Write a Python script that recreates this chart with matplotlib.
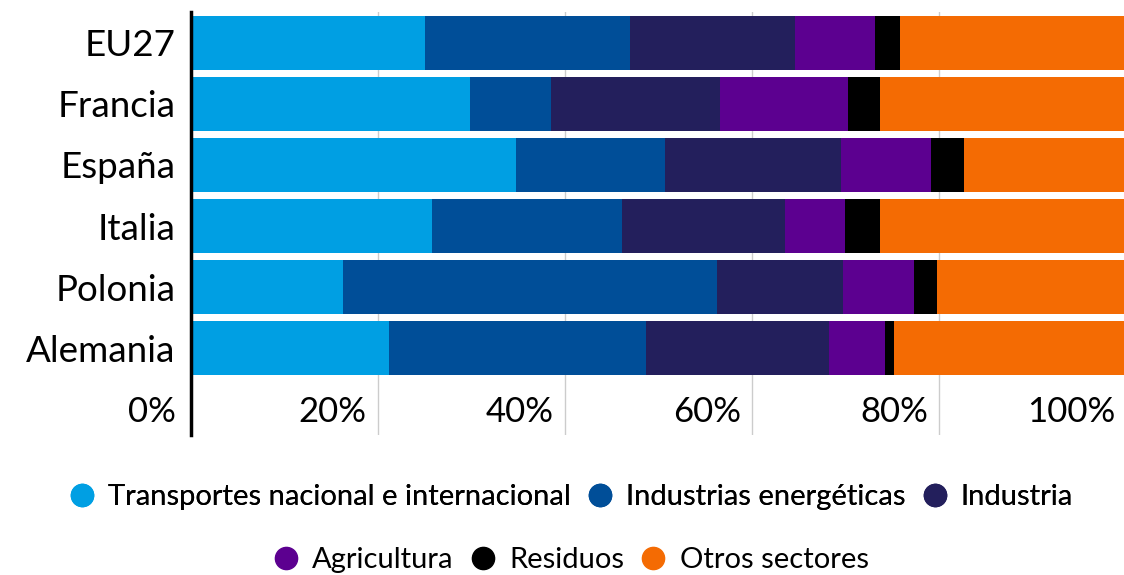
import matplotlib.pyplot as plt
from matplotlib.lines import Line2D
import numpy as np

plt.rcParams['font.family'] = ['Lato', 'DejaVu Sans']

# Datos (% de emisiones por sector)
paises = ['EU27', 'Francia', 'España', 'Italia', 'Polonia', 'Alemania']
sectores = ['Transportes nacional e internacional', 'Industrias energéticas',
            'Industria', 'Agricultura', 'Residuos', 'Otros sectores']
transportes = [25.1, 29.9, 34.8, 25.8, 16.3, 21.2]
energeticas = [21.9, 8.6, 15.9, 20.3, 40.0, 27.5]
industria = [17.6, 18.1, 18.8, 17.5, 13.4, 19.5]
agricultura = [8.6, 13.7, 9.7, 6.4, 7.6, 6.0]
residuos = [2.6, 3.4, 3.5, 3.7, 2.5, 1.0]
otros = [24.2, 26.3, 17.3, 26.3, 20.2, 24.8]
ticks = [0, 20, 40, 60, 80, 100]

colores = ['#009FE3', '#004E98', '#231F5C', '#5C0090', '#000000', '#F46B03']
series = [transportes, energeticas, industria, agricultura, residuos, otros]

fig = plt.figure(figsize=(11.24, 5.75), dpi=100)
ax = fig.add_axes([190.5 / 1124, 1 - 435 / 575, 935.5 / 1124, 423 / 575])

y = np.arange(len(paises))
izq = np.zeros(len(paises))
for vals, col, nombre in zip(series, colores, sectores):
    ax.barh(y, vals, left=izq, height=0.885, color=col, label=nombre, zorder=3)
    izq += np.array(vals)

ax.set_xlim(0, 100)
ax.set_ylim(6.426, -0.508)
ax.set_yticks(y)
ax.set_yticklabels(paises, fontsize=26.5)
ax.tick_params(axis='y', length=0, pad=11)
ax.set_xticks(ticks)
ax.set_xticklabels([])
ax.tick_params(axis='x', length=0)
ax.grid(axis='x', color='#cccccc', linewidth=1, zorder=0)

for s in ['top', 'right', 'bottom']:
    ax.spines[s].set_visible(False)
ax.spines['left'].set_linewidth(2.5)
ax.spines['left'].set_zorder(4)

# etiquetas del eje x dentro del área, alineadas a la derecha de cada línea
for t in ticks:
    ax.annotate(f'{t}%', xy=(t, 6.05), xytext=(-11 if t else -15, 0),
                textcoords='offset pixels', ha='right', va='center',
                fontsize=25, annotation_clip=False)

# leyenda en dos filas centradas
def fila(idx, ypos):
    handles = [Line2D([], [], marker='o', linestyle='', markersize=16,
                      markerfacecolor=colores[i], markeredgecolor=colores[i])
               for i in idx]
    leg = fig.legend(handles, [sectores[i] for i in idx], loc='center',
                     bbox_to_anchor=(570 / 1124, 1 - ypos / 575), ncol=len(idx),
                     frameon=False, fontsize=21, handletextpad=0.4,
                     columnspacing=0.5, handlelength=1.0)
    return leg

leg1 = fila([0, 1, 2], 497)
fig.add_artist(leg1)
fila([3, 4, 5], 560)

fig.savefig('out.png', dpi=100)
